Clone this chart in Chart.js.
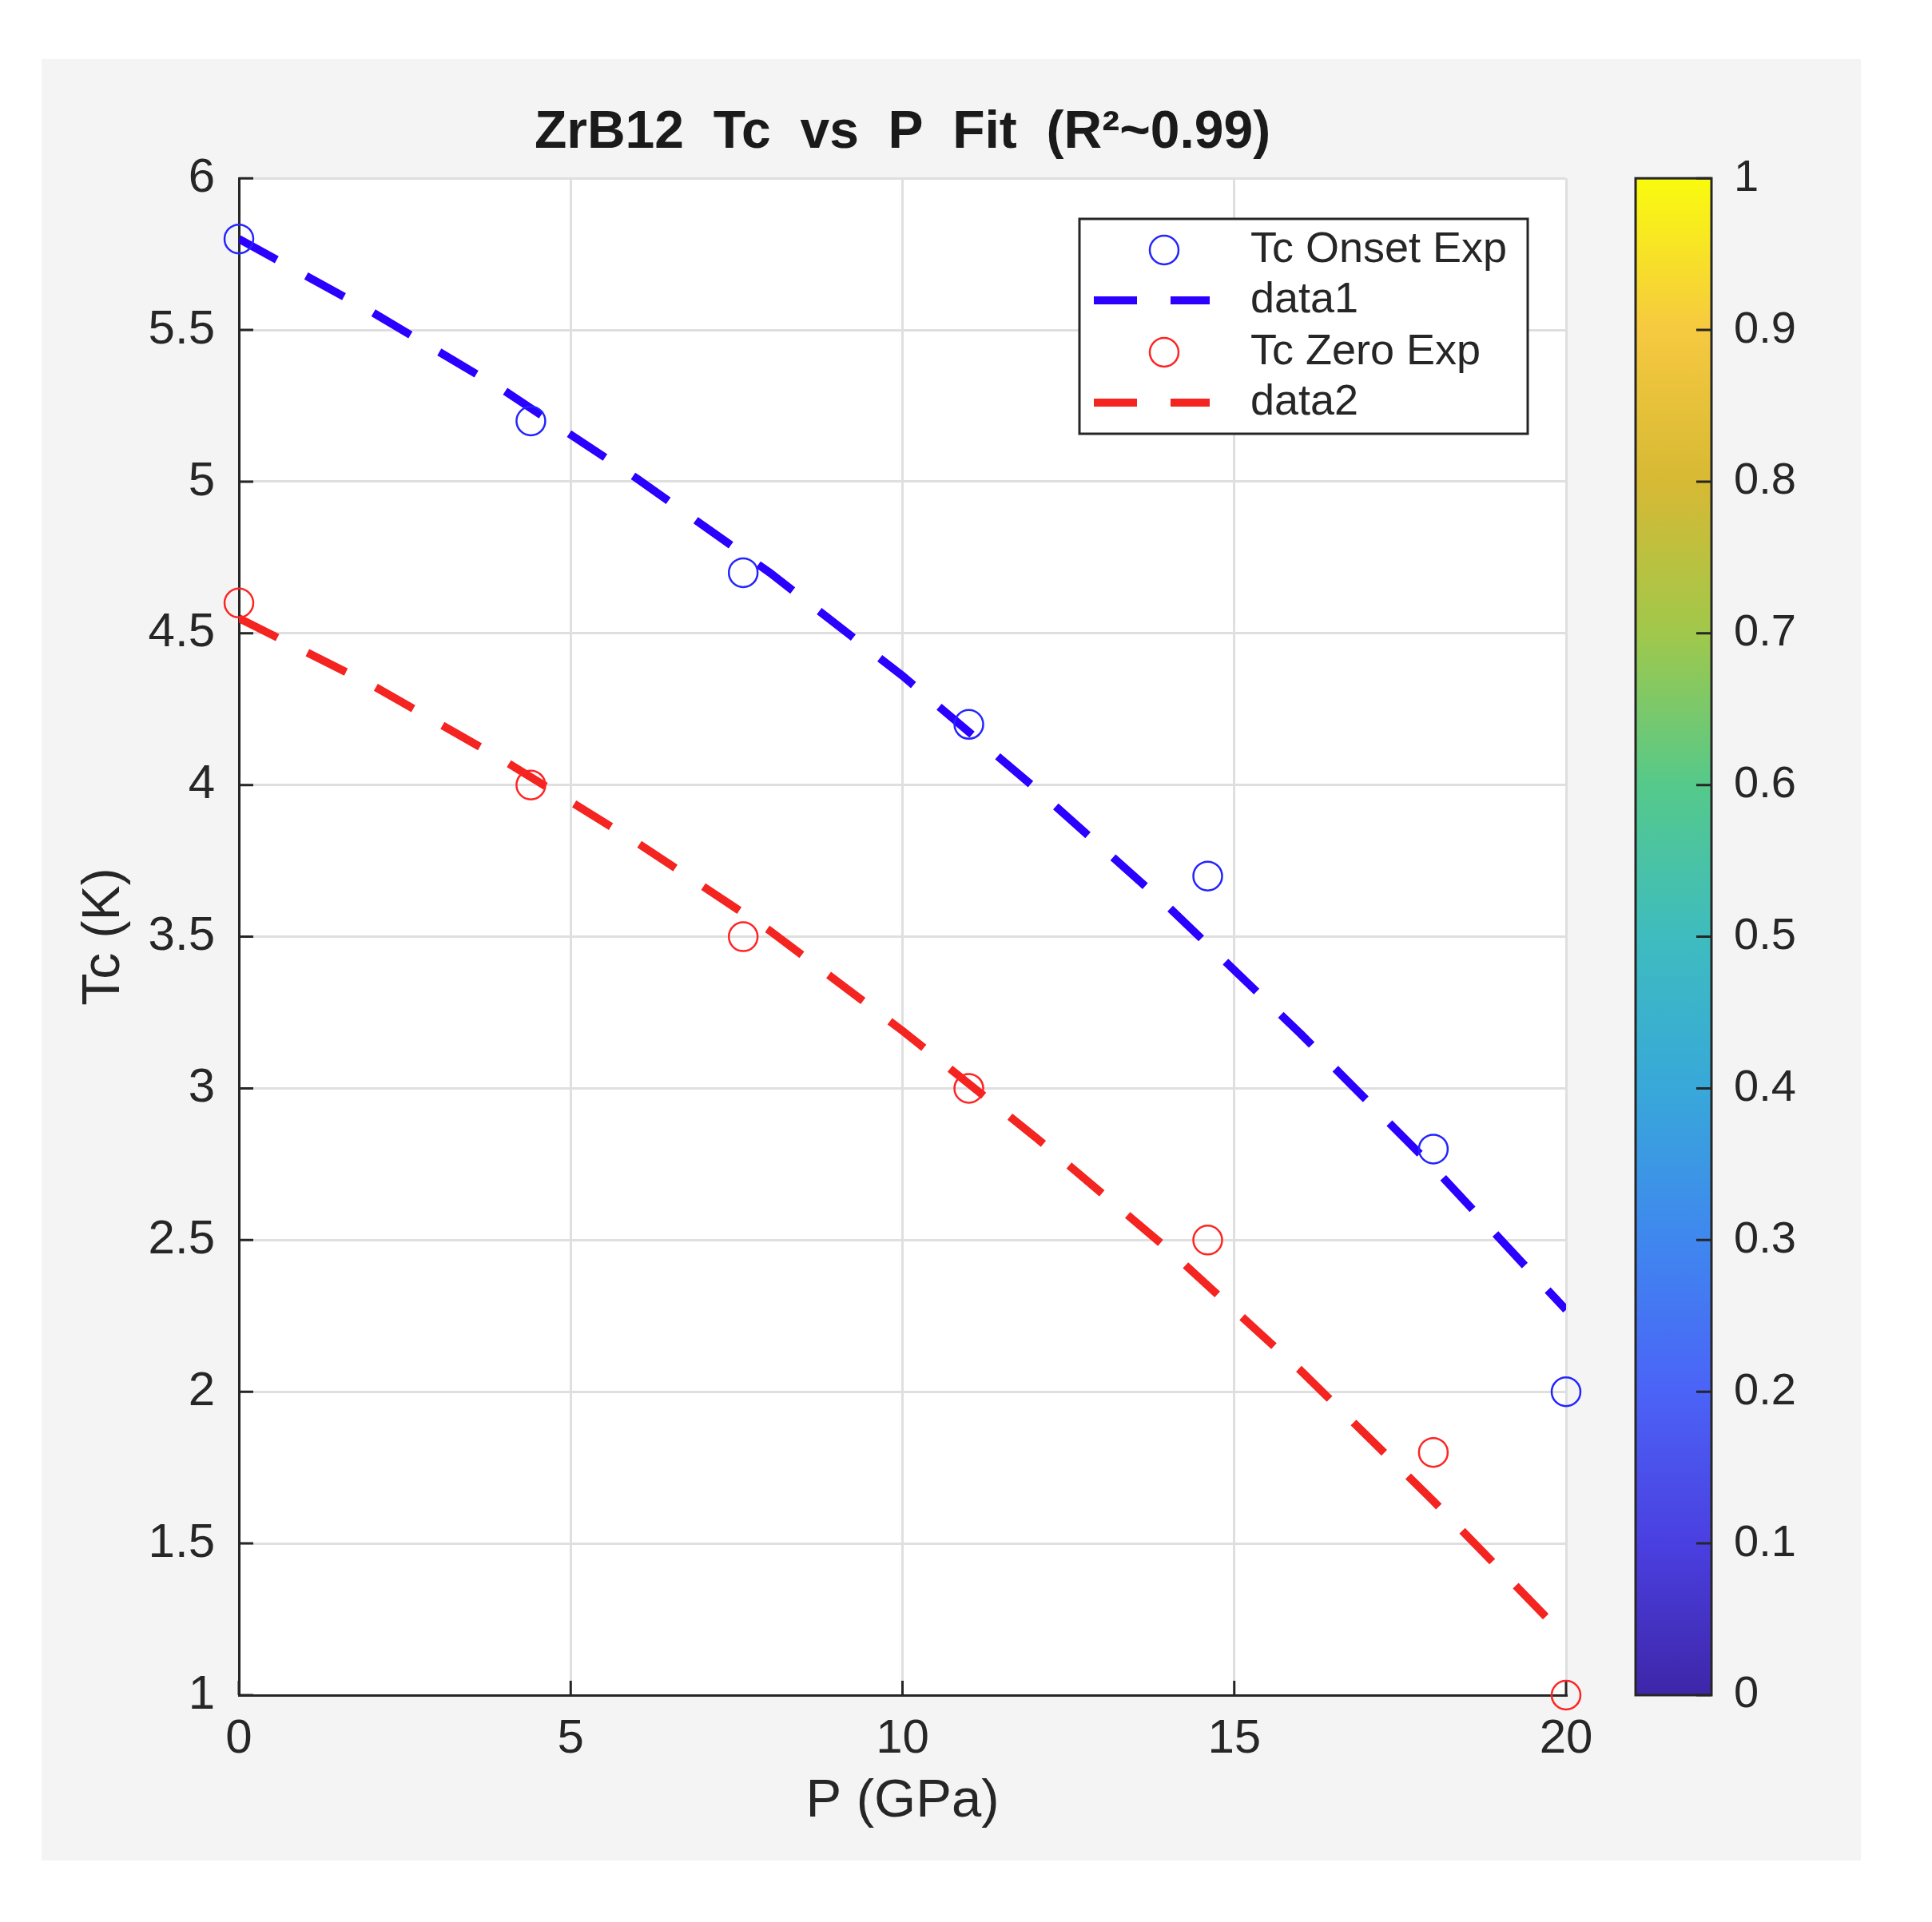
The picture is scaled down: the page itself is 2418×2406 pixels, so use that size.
<!DOCTYPE html>
<html>
<head>
<meta charset="utf-8">
<title>ZrB12 Tc vs P Fit</title>
<script src="https://cdn.jsdelivr.net/npm/chart.js@4.4.1/dist/chart.umd.min.js"></script>
<style>
  html, body { margin: 0; padding: 0; background: #ffffff; }
  canvas { display: block; }
</style>
</head>
<body>
<canvas id="tcChart" width="2418" height="2406"></canvas>
<script>
// Measured points (pressure in GPa, Tc in K)
const pressure = [0, 4.4, 7.6, 11, 14.6, 18, 20];
const tcOnset = [5.8, 5.2, 4.7, 4.2, 3.7, 2.8, 2.0];
const tcZero = [4.6, 4.0, 3.5, 3.0, 2.5, 1.8, 1.0];

// Fitted curves
const fitPressure = [0, 2, 4, 6, 8, 10, 12, 14, 16, 18, 20];
const onsetFit = [5.80, 5.56, 5.30, 5.01, 4.70, 4.36, 3.99, 3.60, 3.18, 2.74, 2.27];
const zeroFit = [4.55, 4.33, 4.08, 3.81, 3.52, 3.19, 2.84, 2.47, 2.07, 1.64, 1.19];

// Tick labels
const xTicks = [0, 5, 10, 15, 20];
const yTicks = [1, 1.5, 2, 2.5, 3, 3.5, 4, 4.5, 5, 5.5, 6];
const colorbarTicks = [0, 0.1, 0.2, 0.3, 0.4, 0.5, 0.6, 0.7, 0.8, 0.9, 1];

const seriesNames = ['Tc Onset Exp', 'data1', 'Tc Zero Exp', 'data2'];

const FONT = "'Liberation Sans', Arial, Helvetica, sans-serif";
const TEXT = '#262626';
const parula = ['#3e26a8', '#4a3fe0', '#4b63f7', '#3f87ef', '#38a8d9', '#3ebcbf',
                '#55c98a', '#a0c84b', '#d7b934', '#f6c940', '#f9fb0e'];

Chart.defaults.font.family = FONT;

function pairs(xs, ys) {
    return xs.map((x, i) => ({ x: x, y: ys[i] }));
}

// grey figure background with white axes box
const figureBackground = {
    id: 'figureBackground',
    beforeDraw(chart) {
        const { ctx, chartArea } = chart;
        ctx.save();
        ctx.fillStyle = '#ffffff';
        ctx.fillRect(0, 0, chart.width, chart.height);
        ctx.fillStyle = '#f4f4f4';
        ctx.fillRect(52, 74, 2277, 2255);
        ctx.fillStyle = '#ffffff';
        ctx.fillRect(chartArea.left, chartArea.top,
            chartArea.right - chartArea.left, chartArea.bottom - chartArea.top);
        ctx.restore();
    }
};

// MATLAB style ticks pointing into the axes
const innerTicks = {
    id: 'innerTicks',
    beforeDatasetsDraw(chart) {
        const { ctx, chartArea, scales } = chart;
        ctx.save();
        ctx.strokeStyle = TEXT;
        ctx.lineWidth = 3;
        ctx.beginPath();
        scales.x.ticks.forEach(t => {
            const px = scales.x.getPixelForValue(t.value);
            ctx.moveTo(px, chartArea.bottom);
            ctx.lineTo(px, chartArea.bottom - 18);
        });
        scales.y.ticks.forEach(t => {
            const py = scales.y.getPixelForValue(t.value);
            ctx.moveTo(chartArea.left, py);
            ctx.lineTo(chartArea.left + 18, py);
        });
        ctx.stroke();
        ctx.restore();
    }
};

// parula colorbar next to the axes
const colorbar = {
    id: 'colorbar',
    afterDraw(chart) {
        const { ctx, chartArea, scales } = chart;
        const cb = scales.cb;
        const left = chartArea.right + 87;
        const width = 95;
        const top = cb.getPixelForValue(1);
        const bottom = cb.getPixelForValue(0);
        const grad = ctx.createLinearGradient(0, bottom, 0, top);
        parula.forEach((c, i) => grad.addColorStop(i / (parula.length - 1), c));
        ctx.save();
        ctx.fillStyle = grad;
        ctx.fillRect(left, top, width, bottom - top);
        ctx.strokeStyle = TEXT;
        ctx.lineWidth = 3;
        ctx.beginPath();
        cb.ticks.forEach(t => {
            const py = cb.getPixelForValue(t.value);
            ctx.moveTo(left + width, py);
            ctx.lineTo(left + width - 19, py);
        });
        ctx.stroke();
        ctx.strokeRect(left, top, width, bottom - top);
        ctx.restore();
    }
};

// boxed legend inside the plot, upper right
const boxLegend = {
    id: 'boxLegend',
    afterDraw(chart) {
        const { ctx } = chart;
        const box = { left: 1351, top: 274, right: 1912, bottom: 543 };
        const rows = [313, 376, 441, 504];
        ctx.save();
        ctx.fillStyle = '#ffffff';
        ctx.fillRect(box.left, box.top, box.right - box.left, box.bottom - box.top);
        ctx.strokeStyle = TEXT;
        ctx.lineWidth = 3;
        ctx.strokeRect(box.left, box.top, box.right - box.left, box.bottom - box.top);
        chart.data.datasets.forEach((ds, i) => {
            const y = rows[i];
            if (ds.showLine === false) {
                ctx.setLineDash([]);
                ctx.strokeStyle = ds.borderColor;
                ctx.lineWidth = ds.borderWidth;
                ctx.beginPath();
                ctx.arc(1457, y, ds.pointRadius, 0, Math.PI * 2);
                ctx.stroke();
            } else {
                ctx.setLineDash(ds.borderDash);
                ctx.strokeStyle = ds.borderColor;
                ctx.lineWidth = ds.borderWidth;
                ctx.beginPath();
                ctx.moveTo(1369, y);
                ctx.lineTo(1514, y);
                ctx.stroke();
            }
            ctx.setLineDash([]);
            ctx.fillStyle = TEXT;
            ctx.font = '54px ' + FONT;
            ctx.textAlign = 'left';
            ctx.textBaseline = 'middle';
            ctx.fillText(ds.label, 1565, y);
        });
        ctx.restore();
    }
};

const ctx = document.getElementById('tcChart').getContext('2d');
new Chart(ctx, {
    type: 'scatter',
    data: {
        datasets: [
            {
                label: seriesNames[0],
                data: pairs(pressure, tcOnset),
                showLine: false,
                pointStyle: 'circle',
                pointRadius: 18,
                pointBackgroundColor: 'rgba(0,0,0,0)',
                borderColor: '#2424ff',
                borderWidth: 2.5,
                clip: false
            },
            {
                label: seriesNames[1],
                data: pairs(fitPressure, onsetFit),
                showLine: true,
                pointRadius: 0,
                borderColor: '#2b00ff',
                borderWidth: 10,
                borderDash: [54, 42],
                borderCapStyle: 'butt',
                tension: 0
            },
            {
                label: seriesNames[2],
                data: pairs(pressure, tcZero),
                showLine: false,
                pointStyle: 'circle',
                pointRadius: 18,
                pointBackgroundColor: 'rgba(0,0,0,0)',
                borderColor: '#ff2424',
                borderWidth: 2.5,
                clip: false
            },
            {
                label: seriesNames[3],
                data: pairs(fitPressure, zeroFit),
                showLine: true,
                pointRadius: 0,
                borderColor: '#f42420',
                borderWidth: 10,
                borderDash: [54, 42],
                borderCapStyle: 'butt',
                tension: 0
            }
        ]
    },
    options: {
        responsive: false,
        devicePixelRatio: 1,
        animation: false,
        layout: { padding: 0 },
        plugins: {
            legend: { display: false },
            tooltip: { enabled: false },
            title: {
                display: true,
                fullSize: false,
                text: 'ZrB12  Tc  vs  P  Fit  (R\u00b2~0.99)',
                color: '#1a1a1a',
                font: { size: 66, weight: 'bold' },
                padding: { top: 127, bottom: 17 }
            }
        },
        scales: {
            x: {
                type: 'linear',
                min: 0,
                max: 20,
                afterBuildTicks: s => { s.ticks = xTicks.map(v => ({ value: v })); },
                afterFit: s => { s.height = 284; },
                grid: { color: '#dfdfdf', lineWidth: 3, drawTicks: false },
                border: { display: true, color: TEXT, width: 3 },
                ticks: { color: TEXT, font: { size: 60 }, padding: 19, callback: v => String(v) },
                title: {
                    display: true, text: 'P (GPa)', color: TEXT,
                    font: { size: 67 }, padding: { top: 0, bottom: 110 }
                }
            },
            y: {
                type: 'linear',
                position: 'left',
                min: 1,
                max: 6,
                afterBuildTicks: s => { s.ticks = yTicks.map(v => ({ value: v })); },
                afterFit: s => { s.width = 299; },
                grid: { color: '#dfdfdf', lineWidth: 3, drawTicks: false },
                border: { display: true, color: TEXT, width: 3 },
                ticks: { color: TEXT, font: { size: 60 }, padding: 30, callback: v => String(v) },
                title: {
                    display: true, text: 'Tc (K)', color: TEXT,
                    font: { size: 66 }, padding: { top: 91, bottom: 0 }
                }
            },
            cb: {
                type: 'linear',
                axis: 'y',
                position: 'right',
                min: 0,
                max: 1,
                afterBuildTicks: s => { s.ticks = colorbarTicks.map(v => ({ value: v })); },
                // the big label offset must not push the plot area down
                afterFit: s => { s.width = 458; s.paddingTop = 34; s.paddingBottom = 34; },
                grid: { display: false, drawTicks: false },
                border: { display: false },
                ticks: { color: TEXT, font: { size: 56 }, padding: 210, callback: v => String(v) }
            }
        }
    },
    plugins: [figureBackground, innerTicks, colorbar, boxLegend]
});
</script>
</body>
</html>
